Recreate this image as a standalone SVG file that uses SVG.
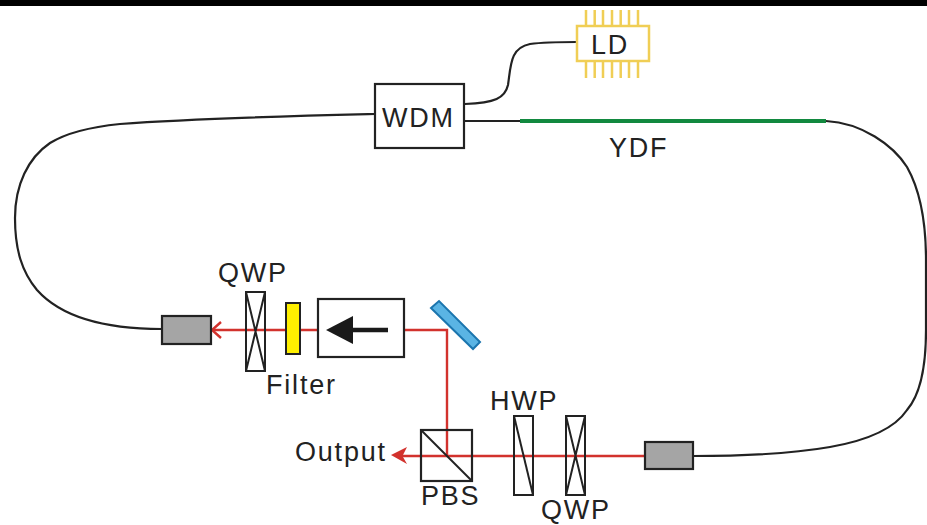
<svg xmlns="http://www.w3.org/2000/svg" width="927" height="525" viewBox="0 0 927 525">
<style>
text{font-family:"Liberation Sans",Arial,sans-serif;font-size:27px;fill:#222;letter-spacing:1.8px}
.box{fill:#fff;stroke:#222;stroke-width:2.200}
.thin{fill:none;stroke:#222;stroke-width:2}
.fiber{fill:none;stroke:#222;stroke-width:2.200}
.beam{fill:none;stroke:#d2322d;stroke-width:2.400}
.gray{fill:#a5a5a5;stroke:#222;stroke-width:2.200}
.pin{stroke:#f0ce55;stroke-width:2.500}
</style>
<rect width="927" height="525" fill="#fff"/>
<rect width="927" height="6" fill="#000"/>
<g id="connectors">
<path class="fiber" d="M375 114C290 116 200 118 120 124C90 127 68 132 50 143C28 158 15 185 15 218C15 250 22 272 37 290C62 318 105 329 162 329"/>
<path class="fiber" d="M465 104C495 103 505 98 508 85C511 65 510 48 530 44C545 42 560 42 577 42"/>
<path class="fiber" d="M464 121H520"/>
<path class="fiber" d="M826 121C862 123 893 145 907 167C920 190 926 220 926 260V330C926 365 920 395 907 410C895 428 870 440 830 447C790 454 740 456 693 456"/>
<path class="beam" d="M404 330H447V456M645 456H403M318 330H213"/>
<path class="beam" d="M221 322L212 330L221 338"/>
<path fill="#d2322d" d="M391 455L407 447L403 455L403 457L407 464Z"/>
</g>
<g id="ld">
<g class="pin">
<path d="M586 10V26M594.700 10V26M603 10V26M612 10V26M620.700 10V26M629 10V26M638 10V26"/>
<path d="M586 61V78M594.700 61V78M603 61V78M612 61V78M620.700 61V78M629 61V78M638 61V78"/>
</g>
<rect x="577" y="26" width="72" height="35" fill="#fff" stroke="#f0ce55" stroke-width="2.500"/>
<text x="591" y="54">LD</text>
</g>
<g id="wdm">
<rect class="box" x="375" y="84" width="89" height="64"/>
<text x="382" y="127">WDM</text>
</g>
<g id="ydf">
<path d="M520 121H826" stroke="#12893f" stroke-width="4" fill="none"/>
<text x="609" y="157">YDF</text>
</g>
<g id="collimator-left"><rect class="gray" x="162" y="316" width="49" height="28"/></g>
<g id="qwp-left">
<rect class="thin" x="246" y="292" width="19" height="79"/>
<path class="thin" d="M246 292L265 371M265 292L246 371"/>
<text x="218" y="282">QWP</text>
</g>
<g id="filter">
<rect x="286" y="303" width="14" height="51" fill="#fff000" stroke="#222" stroke-width="2"/>
<text x="266" y="394">Filter</text>
</g>
<g id="isolator">
<rect x="318" y="299" width="86" height="58" fill="none" stroke="#222" stroke-width="2.200"/>
<path fill="#1a1a1a" d="M326 330L353 316V344Z"/>
<path stroke="#1a1a1a" stroke-width="4.500" d="M350 330H388"/>
</g>
<g id="mirror"><path fill="#5ab4e4" stroke="#1b75ae" stroke-width="2" d="M431 308L439 301L480 342L473 349Z"/></g>
<g id="pbs">
<rect x="421" y="430" width="51" height="51" fill="none" stroke="#222" stroke-width="2.200"/>
<path class="thin" d="M421 430L472 481"/>
<text x="421" y="505">PBS</text>
</g>
<g id="output"><text x="295" y="461">Output</text></g>
<g id="hwp">
<rect class="thin" x="514" y="416" width="19" height="79"/>
<path class="thin" d="M514 416L533 495"/>
<text x="490" y="410">HWP</text>
</g>
<g id="qwp-right">
<rect class="thin" x="566" y="416" width="19" height="79"/>
<path class="thin" d="M566 416L585 495M585 416L566 495"/>
<text x="541" y="519">QWP</text>
</g>
<g id="collimator-right"><rect class="gray" x="645" y="442" width="48" height="27"/></g>
</svg>
